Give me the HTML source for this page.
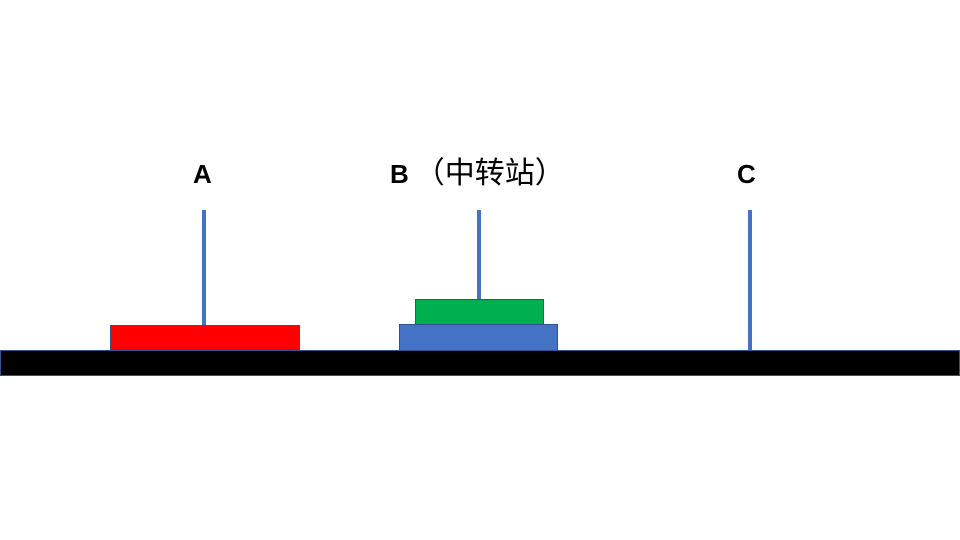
<!DOCTYPE html>
<html><head><meta charset="utf-8"><style>
body{margin:0;width:960px;height:540px;background:#fff;position:relative;overflow:hidden;font-family:"Liberation Sans","Noto Sans CJK SC",sans-serif}
div{position:absolute;box-sizing:border-box}
.p{background:#4472c4;width:4px}
.t{font-weight:bold;font-size:26px;line-height:30px;top:159px}
</style></head><body>
<div class="t" style="left:193px">A</div>
<div class="t" style="left:390px;white-space:nowrap">B<span style="font-weight:normal;font-size:30px;margin-left:6px">（中转站）</span></div>
<div class="t" style="left:737px">C</div>
<div class="p" style="left:202px;top:210px;height:116px"></div>
<div class="p" style="left:477px;top:210px;height:91px"></div>
<div class="p" style="left:748px;top:210px;height:141px"></div>
<div style="left:110px;top:325px;width:190px;height:26px;background:#ff0000;border:1px solid #2f528f"></div>
<div style="left:415px;top:299px;width:129px;height:26px;background:#00b050;border:1px solid #2f528f"></div>
<div style="left:399px;top:324px;width:159px;height:27px;background:#4472c4;border:1px solid #2f528f"></div>
<div style="left:0;top:350px;width:960px;height:26px;background:#000;border:1px solid #2f528f"></div>
</body></html>
